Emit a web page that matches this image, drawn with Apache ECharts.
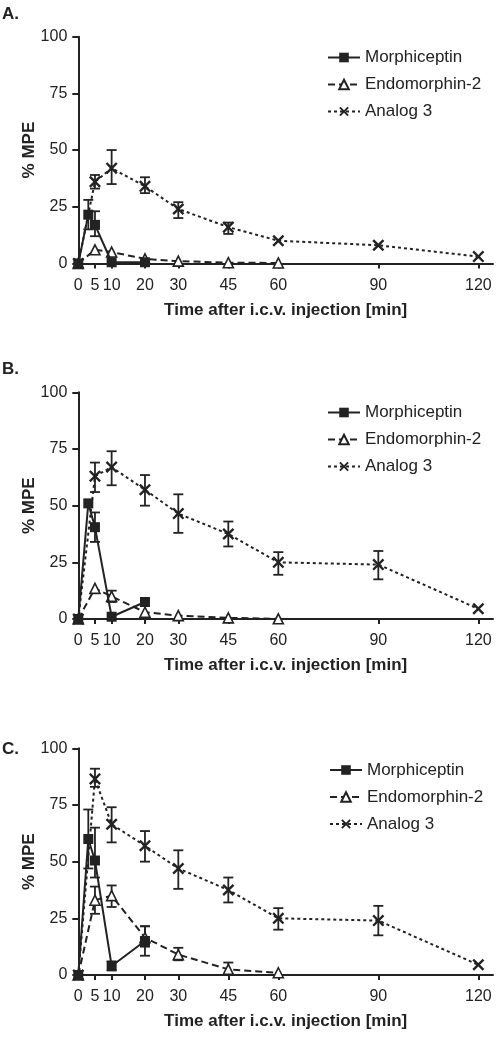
<!DOCTYPE html>
<html>
<head>
<meta charset="utf-8">
<script src="https://cdn.jsdelivr.net/npm/echarts@6/dist/echarts.min.js"></script>
<style>
html,body{margin:0;padding:0;background:#fff;}
#c{width:504px;height:1038px;}
</style>
</head>
<body>
<div id="c"></div>
<script>
// ---- data ----
const xTicks = [0, 5, 10, 20, 30, 45, 60, 90, 120];
const seriesNames = ['Morphiceptin', 'Endomorphin-2', 'Analog 3'];
const panelLabels = ['A.', 'B.', 'C.'];

const morphX = [0, 3, 5, 10, 20];
const endoX = [0, 5, 10, 20, 30, 45, 60];
const analogX = [0, 5, 10, 20, 30, 45, 60, 90, 120];

// Panel A
const morphA = [0, 21.5, 17, 0.5, 0.5];
const morphA_err = [[3, 15, 28], [5, 12, 23]];
const endoA = [0, 6, 5, 2, 1, 0.3, 0.2];
const endoA_err = [];
const analogA = [0, 36, 42, 34, 24, 16, 10, 8, 3];
const analogA_err = [[5, 33, 39], [10, 35, 50], [20, 31, 38], [30, 20, 27], [45, 13, 18]];

// Panel B
const morphB = [0, 51, 40.5, 1, 7.5];
const morphB_err = [[5, 34, 47]];
const endoB = [0, 13.5, 10, 3, 1.5, 0.5, 0.1];
const endoB_err = [[10, 7.5, 12.5]];
const analogB = [0, 63, 67, 57, 46.5, 37.5, 25, 24, 4.5];
const analogB_err = [[5, 56, 69], [10, 59, 74], [20, 50, 63.5], [30, 38, 55], [45, 32, 43], [60, 19.5, 29.5], [90, 17.5, 30]];

// Panel C
const morphC = [0, 60, 50.5, 4, 15];
const morphC_err = [[3, 47, 73], [5, 43, 65], [10, 2, 6], [20, 8.5, 21.5]];
const endoC = [0, 33, 35, 16.5, 9, 2.5, 1];
const endoC_err = [[5, 27, 39], [10, 30, 39.5], [20, 12.5, 21.5], [30, 6.5, 12], [45, 0.5, 5.5]];
const analogC = [0, 86.5, 66.5, 57, 47, 37.5, 25, 24, 4.5];
const analogC_err = [[5, 83, 91], [10, 58.5, 74], [20, 50, 63.5], [30, 38, 55], [45, 32, 43], [60, 20, 29.5], [90, 17.5, 30.5]];

// ---- build ----
const INK = '#222';
const FONT = '"Liberation Sans", Arial, sans-serif';
const panels = [
  {m: morphA, me: morphA_err, e: endoA, ee: endoA_err, a: analogA, ae: analogA_err, top: 36.7, lx: 322, ly: 44, labelY: 15},
  {m: morphB, me: morphB_err, e: endoB, ee: endoB_err, a: analogB, ae: analogB_err, top: 392.3, lx: 322, ly: 399, labelY: 370},
  {m: morphC, me: morphC_err, e: endoC, ee: endoC_err, a: analogC, ae: analogC_err, top: 748.3, lx: 324, ly: 756.5, labelY: 750}
];

const xPath = 'path://M0,1.4L1.4,0L5,3.6L8.6,0L10,1.4L6.4,5L10,8.6L8.6,10L5,6.4L1.4,10L0,8.6L3.6,5Z';
const zip = (xs, ys) => xs.map((x, i) => [x, ys[i]]);

function errSeries(data, idx) {
  return {
    type: 'custom', xAxisIndex: idx, yAxisIndex: idx, silent: true, z: 3,
    encode: {x: 0, y: [1, 2]},
    data: data,
    renderItem: function (params, api) {
      const lo = api.coord([api.value(0), api.value(1)]);
      const hi = api.coord([api.value(0), api.value(2)]);
      const w = 5;
      const st = {stroke: INK, lineWidth: 1.8};
      return {type: 'group', children: [
        {type: 'line', shape: {x1: lo[0], y1: lo[1], x2: hi[0], y2: hi[1]}, style: st},
        {type: 'line', shape: {x1: lo[0] - w, y1: lo[1], x2: lo[0] + w, y2: lo[1]}, style: st},
        {type: 'line', shape: {x1: hi[0] - w, y1: hi[1], x2: hi[0] + w, y2: hi[1]}, style: st}
      ]};
    }
  };
}

const grids = [], xAxes = [], yAxes = [], legends = [], series = [], graphics = [];
panels.forEach((p, i) => {
  grids.push({left: 78.3, width: 414.7, top: p.top, height: 226.7});
  xAxes.push({
    type: 'value', gridIndex: i, min: 0, max: 124.4,
    name: 'Time after i.c.v. injection [min]', nameLocation: 'middle', nameGap: 38,
    nameMoveOverlap: false,
    nameTextStyle: {fontFamily: FONT, fontWeight: 'bold', fontSize: 17, color: INK},
    axisLine: {lineStyle: {color: INK, width: 2}},
    axisTick: {customValues: xTicks, length: 5, lineStyle: {color: INK, width: 2}},
    axisLabel: {customValues: xTicks, margin: 14, fontFamily: FONT, fontSize: 16, color: INK},
    splitLine: {show: false}
  });
  yAxes.push({
    type: 'value', gridIndex: i, min: 0, max: 100, interval: 25,
    name: '% MPE', nameLocation: 'middle', nameGap: 40, nameRotate: 90,
    nameMoveOverlap: false,
    nameTextStyle: {fontFamily: FONT, fontWeight: 'bold', fontSize: 17, color: INK},
    axisLine: {show: true, lineStyle: {color: INK, width: 2}},
    axisTick: {show: true, length: 6, lineStyle: {color: INK, width: 2}},
    axisLabel: {margin: 11, fontFamily: FONT, fontSize: 16, color: INK},
    splitLine: {show: false}
  });
  legends.push({
    orient: 'vertical', left: p.lx, top: p.ly, itemWidth: 32, itemHeight: 12, itemGap: 10,
    data: seriesNames,
    textStyle: {fontFamily: FONT, fontSize: 17, color: INK},
    selectedMode: false
  });
  series.push({
    name: seriesNames[2], type: 'line', xAxisIndex: i, yAxisIndex: i, data: zip(analogX, p.a),
    symbol: xPath, symbolSize: 12, z: 4,
    lineStyle: {color: INK, width: 2, type: [3, 3]},
    itemStyle: {color: INK}
  });
  series.push({
    name: seriesNames[1], type: 'line', xAxisIndex: i, yAxisIndex: i, data: zip(endoX, p.e),
    symbol: 'triangle', symbolSize: 10, z: 5,
    lineStyle: {color: INK, width: 2, type: [7, 4]},
    itemStyle: {color: '#fff', borderColor: INK, borderWidth: 1.6}
  });
  series.push({
    name: seriesNames[0], type: 'line', xAxisIndex: i, yAxisIndex: i, data: zip(morphX, p.m),
    symbol: 'rect', symbolSize: 10, z: 6,
    lineStyle: {color: INK, width: 2, type: 'solid'},
    itemStyle: {color: INK}
  });
  series.push(errSeries(p.ae, i));
  series.push(errSeries(p.ee, i));
  series.push(errSeries(p.me, i));
  graphics.push({
    type: 'text', left: 2, top: p.labelY - 9,
    style: {text: panelLabels[i], font: 'bold 17px ' + FONT, fill: INK}
  });
});

const chart = echarts.init(document.getElementById('c'), null, {renderer: 'canvas'});
chart.setOption({
  animation: false,
  backgroundColor: '#fff',
  grid: grids, xAxis: xAxes, yAxis: yAxes, legend: legends,
  series: series, graphic: graphics
});
</script>
</body>
</html>
